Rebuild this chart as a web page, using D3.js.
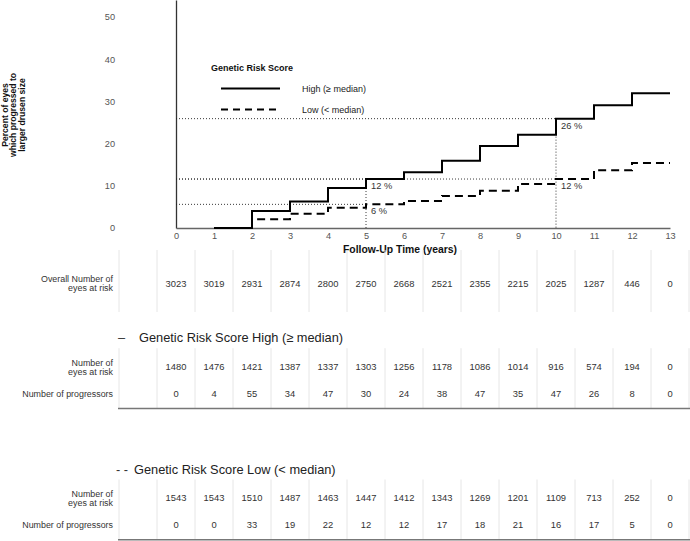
<!DOCTYPE html>
<html><head><meta charset="utf-8">
<script src="https://cdn.jsdelivr.net/npm/d3@7"></script>
<style>body{margin:0;background:#fff} svg{display:block;font-family:"Liberation Sans",Arial,sans-serif}</style>
</head><body><svg id="c" width="690" height="541"></svg>
<script>
// ---- data ----
const stepYears = [1,2,3,4,5,6,7,8,9,10,11,12,13];
const highCum = [0,4.0,6.3,9.5,11.6,13.2,15.9,19.4,22.1,25.9,29.1,31.9,31.9];
const lowCum  = [0,2.1,3.4,4.8,5.6,6.4,7.6,8.8,10.4,11.6,13.7,15.4,15.4];
const refX = [5,5,10,10];
const refY = [11.6,5.6,25.9,11.6];
const refLabels = ["12 %","6 %","26 %","12 %"];
const xTicks = [0,1,2,3,4,5,6,7,8,9,10,11,12,13];
const yTicks = [0,10,20,30,40,50];
const tableYears = [0,1,2,3,4,5,6,7,8,9,10,11,12,13];
const overallAtRisk = [3023,3019,2931,2874,2800,2750,2668,2521,2355,2215,2025,1287,446,0];
const highAtRisk = [1480,1476,1421,1387,1337,1303,1256,1178,1086,1014,916,574,194,0];
const highProg = [0,4,55,34,47,30,24,38,47,35,47,26,8,0];
const lowAtRisk = [1543,1543,1510,1487,1463,1447,1412,1343,1269,1201,1109,713,252,0];
const lowProg = [0,0,33,19,22,12,12,17,18,21,16,17,5,0];

const svg = d3.select("#c");
const x = d3.scaleLinear().domain([0,13]).range([176,670]);
const y = d3.scaleLinear().domain([0,54]).range([228,0]);

// y axis
const ya = svg.append("g").attr("transform","translate(176,0)")
  .call(d3.axisLeft(y).tickValues(yTicks).tickSize(0).tickSizeOuter(0).tickPadding(61));
ya.select(".domain").attr("stroke","#333").attr("stroke-width",1.3);
ya.selectAll("text").attr("font-size",9.2).attr("fill","#555").attr("font-family","Liberation Sans, Arial, sans-serif");

// x axis
const xa = svg.append("g").attr("transform","translate(0,228)")
  .call(d3.axisBottom(x).tickValues(xTicks).tickSize(0).tickSizeOuter(0).tickPadding(4));
xa.select(".domain").attr("stroke","#666").attr("stroke-width",1.6);
xa.selectAll("text").attr("font-size",9.2).attr("fill","#555").attr("font-family","Liberation Sans, Arial, sans-serif");

svg.append("text").attr("x",400).attr("y",253).attr("text-anchor","middle")
  .attr("font-size",10.4).attr("font-weight","bold").attr("fill","#111").text("Follow-Up Time (years)");

// y title
const yt = svg.append("text").attr("transform","translate(0,115) rotate(-90)")
  .attr("text-anchor","middle").attr("font-size",8.6).attr("font-weight","bold").attr("fill","#111");
["Percent of eyes","which progressed to","larger drusen size"].forEach((s,i)=>{
  yt.append("tspan").attr("x",0).attr("y",7.5+i*8.6).text(s);
});

// reference dotted lines
refX.forEach((rx,i)=>{
  svg.append("line").attr("x1",x(0)).attr("x2",x(rx)).attr("y1",y(refY[i])).attr("y2",y(refY[i]))
    .attr("stroke","#222").attr("stroke-width",0.9).attr("stroke-dasharray","1,2");
});
[5,10].forEach(rx=>{
  const top = d3.max(refX.map((v,i)=>v===rx?refY[i]:0));
  svg.append("line").attr("x1",x(rx)).attr("x2",x(rx)).attr("y1",y(top)).attr("y2",y(0))
    .attr("stroke","#222").attr("stroke-width",0.9).attr("stroke-dasharray","1,2");
});
refX.forEach((rx,i)=>{
  svg.append("text").attr("x",x(rx)+5).attr("y",y(refY[i])+10).attr("font-size",9.3)
    .attr("fill","#333").text(refLabels[i]);
});

// step lines
const line = d3.line().x(d=>x(d[0])).y(d=>y(d[1])).curve(d3.curveStepAfter);
svg.append("path").datum(stepYears.map((t,i)=>[t,lowCum[i]]))
  .attr("d",line).attr("fill","none").attr("stroke","#000").attr("stroke-width",2).attr("stroke-dasharray","8,5");
svg.append("path").datum(stepYears.map((t,i)=>[t,highCum[i]]))
  .attr("d",line).attr("fill","none").attr("stroke","#000").attr("stroke-width",2);

// legend
svg.append("text").attr("x",211).attr("y",71).attr("font-size",9).attr("font-weight","bold").attr("fill","#111").text("Genetic Risk Score");
svg.append("line").attr("x1",221).attr("x2",280).attr("y1",88.5).attr("y2",88.5).attr("stroke","#000").attr("stroke-width",2);
svg.append("line").attr("x1",221).attr("x2",280).attr("y1",109.5).attr("y2",109.5).attr("stroke","#000").attr("stroke-width",2).attr("stroke-dasharray","7,5");
svg.append("text").attr("x",302).attr("y",91.5).attr("font-size",9).attr("fill","#222").text("High (\u2265 median)");
svg.append("text").attr("x",302).attr("y",112.5).attr("font-size",9).attr("fill","#222").text("Low (< median)");

// tables
function separators(y1,y2){
  const xs = [x(-1.5)].concat(d3.range(0,15).map(k=>x(k-0.5)));
  svg.selectAll(null).data(xs).enter().append("line")
    .attr("x1",d=>d).attr("x2",d=>d).attr("y1",y1).attr("y2",y2)
    .attr("stroke","#e6e6e6").attr("stroke-width",1);
}
function rowValues(vals,baseline){
  svg.selectAll(null).data(vals).enter().append("text")
    .attr("x",(d,i)=>x(tableYears[i])).attr("y",baseline).attr("text-anchor","middle")
    .attr("font-size",9.4).attr("fill","#333").text(d=>d);
}
function label(lines,baseline){
  const t = svg.append("text").attr("text-anchor","end").attr("font-size",8.9).attr("fill","#333");
  lines.forEach((s,i)=>t.append("tspan").attr("x",113).attr("y",baseline+i*9.3).text(s));
}

// overall
separators(250,312);
label(["Overall Number of","eyes at risk"],282);
rowValues(overallAtRisk,286.5);

function groupTable(off,sym,title,atRisk,prog){
  svg.append("text").attr("x",off.sx).attr("y",off.y+4.5).attr("font-size",12.8).attr("fill","#333").text(sym);
  svg.append("text").attr("x",off.tx).attr("y",off.y+4.5).attr("font-size",12.8).attr("fill","#222").text(title);
  separators(off.y+10.5,off.y+70.7);
  label(["Number of","eyes at risk"],off.y+28);
  rowValues(atRisk,off.y+32.3);
  label(["Number of progressors"],off.y+59);
  rowValues(prog,off.y+59);
  svg.append("line").attr("x1",118).attr("x2",690).attr("y1",off.y+70.7).attr("y2",off.y+70.7)
    .attr("stroke","#777").attr("stroke-width",1.5);
}
groupTable({y:337.7,sx:118,tx:139},"\u2013","Genetic Risk Score High (\u2265 median)",highAtRisk,highProg);
groupTable({y:469,sx:116,tx:134},"- -","Genetic Risk Score Low (< median)",lowAtRisk,lowProg);
</script></body></html>
